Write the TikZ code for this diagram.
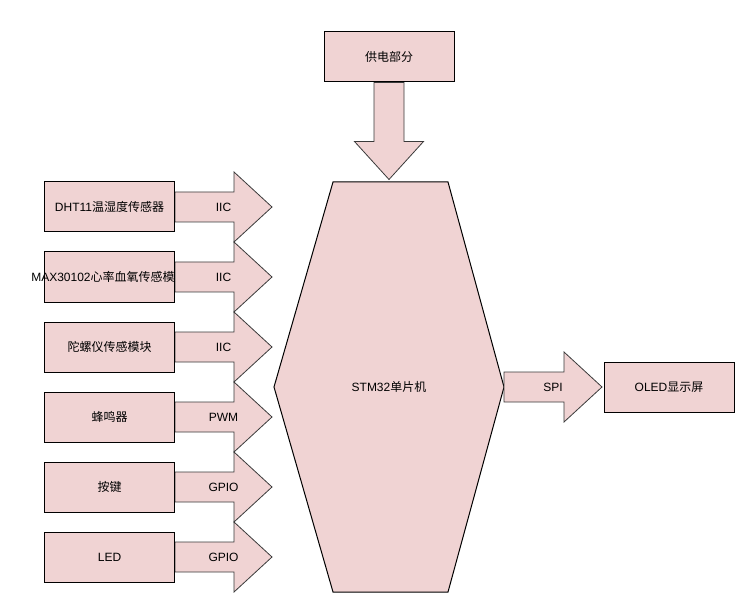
\documentclass[tikz,border=0pt]{standalone}
\usepackage{fontspec}
\usetikzlibrary{calc}
\setmainfont{Liberation Sans}
\newfontfamily\cjk{Noto Sans CJK SC}
\definecolor{boxfill}{HTML}{F0D3D3}
\definecolor{arrline}{HTML}{3A3A3A}
\begin{document}
\begin{tikzpicture}[x=0.75pt,y=-0.75pt,
  font=\fontsize{9}{11}\selectfont,
  box/.style={draw=black, fill=boxfill, minimum width=97.5pt, minimum height=37.5pt, inner sep=0pt, line width=0.75pt},
  blockarrow/.style={draw=arrline, fill=boxfill, line width=0.6pt, line join=miter},
  lbl/.style={inner sep=0pt}]
\useasboundingbox (0,0) rectangle (752,609);

% hexagon MCU
\coordinate (mcuL) at (274,387);
\coordinate (mcuR) at (504,387);
\draw[blockarrow, draw=black, line width=0.75pt] (333,182) -- (448,182) -- (mcuR) -- (448,592) -- (333,592) -- (mcuL) -- cycle;
\node[lbl] (mcu) at (389,387) {STM32{\cjk 单片机}};

% left side boxes positions
\coordinate (p1) at (109.5,207);
\coordinate (p2) at (109.5,277);
\coordinate (p3) at (109.5,347);
\coordinate (p4) at (109.5,417);
\coordinate (p5) at (109.5,487);
\coordinate (p6) at (109.5,557);

% arrows from left boxes
\foreach \i/\t in {1/IIC,2/IIC,3/IIC,4/PWM,5/GPIO,6/GPIO}{
  \draw[blockarrow] (p\i) ++(65.5,-15) -- ++(59,0) -- ++(0,-20) -- ++(38,35) -- ++(-38,35) -- ++(0,-20) -- ++(-59,0) -- cycle;
  \node[lbl] (a\i) at ($(p\i)+(114,0)$) {\t};
}

\node[box] (d1) at (p1) {DHT11{\cjk 温湿度传感器}};
\node[box] (d2) at (p2) {};
\node[lbl, anchor=west] (d2t) at ($(d2.west)+(-13,0)$) {MAX30102{\cjk 心率血氧传感模}};
\node[box] (d3) at (p3) {\cjk 陀螺仪传感模块};
\node[box] (d4) at (p4) {\cjk 蜂鸣器};
\node[box] (d5) at (p5) {\cjk 按键};
\node[box] (d6) at (p6) {LED};

% power
\node[box] (pw) at (389,57) {\cjk 供电部分};
\draw[blockarrow] (pw.south) ++(-15,0) -- ++(0,59) -- ++(-19.5,0) -- ++(34.5,38) -- ++(34.5,-38) -- ++(-19.5,0) -- ++(0,-59) -- cycle;

% SPI arrow and OLED
\draw[blockarrow] (mcuR) ++(0,-15) -- ++(60,0) -- ++(0,-20) -- ++(38,35) -- ++(-38,35) -- ++(0,-20) -- ++(-60,0) -- cycle;
\node[lbl] (spi) at (553,387) {SPI};
\node[box] (oled) at (669,387) {OLED{\cjk 显示屏}};
\end{tikzpicture}
\end{document}
